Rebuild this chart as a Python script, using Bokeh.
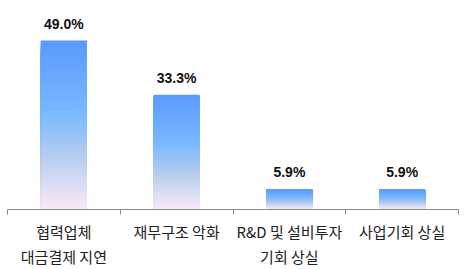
from bokeh.plotting import figure
from bokeh.models import ColumnDataSource, FixedTicker, Range1d
from bokeh.core.properties import value
from bokeh.embed import file_html
from bokeh.resources import INLINE

# Survey result: share of respondents per damage type (%)
categories = ["협력업체\n대금결제 지연", "재무구조 악화", "R&D 및 설비투자\n기회 상실", "사업기회 상실"]
shares = [49.0, 33.3, 5.9, 5.9]
value_labels = ["49.0%", "33.3%", "5.9%", "5.9%"]

# vertical gradient stops (position measured from the top of each bar)
grad_pos = [0.0, 0.42, 0.68, 1.0]
grad_rgb = [(0x5A, 0x9A, 0xFD), (0x78, 0xB8, 0xFF), (0xB4, 0xCC, 0xEE), (0xFB, 0xEA, 0xF8)]

BAR_W = 0.41
STEPS = 90


def grad_color(t):
    """t: 0 at bar top, 1 at bar bottom."""
    for i in range(len(grad_pos) - 1):
        a, b = grad_pos[i], grad_pos[i + 1]
        if t <= b:
            f = (t - a) / (b - a) if b > a else 0.0
            c = [round(grad_rgb[i][k] + (grad_rgb[i + 1][k] - grad_rgb[i][k]) * f) for k in range(3)]
            return "#%02x%02x%02x" % tuple(c)
    return "#%02x%02x%02x" % grad_rgb[-1]


centers = [i + 0.5 for i in range(len(categories))]

# Each bar is layered from shorter and shorter quads, each one painted with the
# colour of its own top band, so the stack reads as a smooth vertical gradient.
left, right, bottom, top, color = [], [], [], [], []
for k in range(STEPS):
    frac = 1 - k / STEPS
    t = k / STEPS + 0.5 / STEPS
    for c, v in zip(centers, shares):
        left.append(c - BAR_W / 2)
        right.append(c + BAR_W / 2)
        bottom.append(0)
        top.append(v * frac)
        color.append(grad_color(t))

bars = ColumnDataSource(dict(left=left, right=right, bottom=bottom, top=top, color=color))
labels = ColumnDataSource(dict(x=centers, y=shares, text=value_labels))

p = figure(
    width=465, height=269,
    x_range=Range1d(0, len(categories)),
    y_range=Range1d(0, 60.6),
    output_backend="svg", toolbar_location=None,
    min_border_left=7, min_border_right=7, min_border_top=0, min_border_bottom=0,
    y_axis_location=None,
)
p.outline_line_color = None
p.xgrid.visible = False
p.ygrid.visible = False

p.quad(left="left", right="right", bottom="bottom", top="top",
       fill_color="color", line_color=None, source=bars)

p.text(x="x", y="y", text="text", source=labels, y_offset=-9,
       text_align="center", text_baseline="bottom",
       text_font=value("Liberation Sans"), text_font_style="bold",
       text_font_size="14px", text_color="#111111")

ax = p.xaxis[0]
ax.ticker = FixedTicker(ticks=centers, minor_ticks=list(range(len(categories) + 1)))
ax.major_label_overrides = {c: lab for c, lab in zip(centers, categories)}
ax.major_tick_out = 0
ax.major_tick_in = 0
ax.minor_tick_out = 5
ax.minor_tick_in = 0
ax.axis_line_color = "#8a8a8a"
ax.minor_tick_line_color = "#8a8a8a"
ax.major_label_standoff = 6
ax.major_label_text_font = "Noto Sans CJK KR"
ax.major_label_text_font_size = "15px"
ax.major_label_text_color = "#222222"
ax.major_label_text_line_height = 1.2
p.min_border_bottom = 60

open("out.html", "w").write(file_html(p, INLINE))
